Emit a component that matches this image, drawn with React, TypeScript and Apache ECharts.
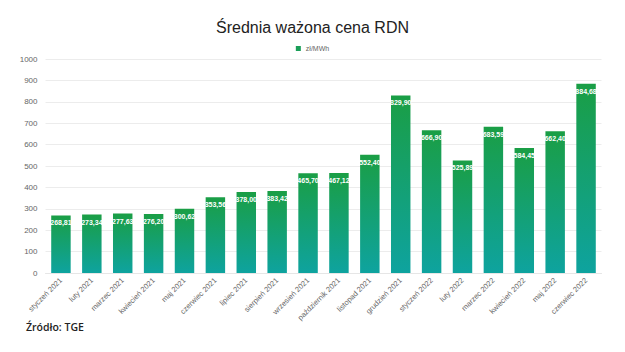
import React, { useEffect, useRef } from "react";
import * as echarts from "echarts";

const categories = [
  "styczeń 2021", "luty 2021", "marzec 2021", "kwiecień 2021", "maj 2021", "czerwiec 2021",
  "lipiec 2021", "sierpień 2021", "wrzesień 2021", "październik 2021", "listopad 2021", "grudzień 2021",
  "styczeń 2022", "luty 2022", "marzec 2022", "kwiecień 2022", "maj 2022", "czerwiec 2022",
];
const values = [
  268.81, 273.34, 277.63, 276.2, 300.62, 353.56, 378.0, 383.42, 465.7, 467.12, 552.4, 829.9,
  666.9, 525.89, 683.59, 584.45, 662.4, 884.68,
];
const seriesName = "zł/MWh";
const titleText = "Średnia ważona cena RDN";
const sourceText = "Źródło: TGE";

export default function App() {
  const ref = useRef<HTMLDivElement>(null);
  useEffect(() => {
    const chart = echarts.init(ref.current!, null, { renderer: "svg" });
    chart.setOption({
      animation: false,
      backgroundColor: "#ffffff",
      title: {
        text: titleText,
        left: "center",
        top: 14,
        textStyle: { fontFamily: "Liberation Sans, Arial", fontSize: 16, fontWeight: "normal", color: "#222" },
      },
      legend: {
        top: 40,
        left: "center",
        itemWidth: 5,
        itemHeight: 5,
        icon: "rect",
        textStyle: { fontFamily: "Liberation Sans, Arial", fontSize: 7, color: "#666" },
        itemGap: 3,
        data: [{ name: seriesName, itemStyle: { color: "#1a9e58" } }],
      },
      graphic: [
        {
          type: "text",
          left: 26,
          top: 321,
          style: { text: sourceText, fontFamily: "Open Sans, Noto Sans", fontSize: 10.5, fontWeight: 600, fill: "#222" },
        },
      ],
      grid: { left: 45.5, right: 23.5, top: 59, bottom: 79, containLabel: false },
      xAxis: {
        type: "category",
        data: categories,
        axisLine: { show: true, lineStyle: { color: "#e6e6e6" } },
        axisTick: { show: false },
        axisLabel: {
          rotate: 45,
          interval: 0,
          fontSize: 7.5,
          color: "#666",
          fontFamily: "Liberation Sans, Arial",
          margin: 6,
        },
      },
      yAxis: {
        type: "value",
        min: 0,
        max: 1000,
        interval: 100,
        axisLine: { show: false },
        axisTick: { show: false },
        splitLine: { lineStyle: { color: "#ececec" } },
        axisLabel: {
          fontSize: 8,
          color: "#666",
          fontFamily: "Liberation Sans, Arial",
          margin: 8,
          formatter: (v: number) => String(v),
        },
      },
      series: [
        {
          name: seriesName,
          type: "bar",
          data: values,
          barCategoryGap: "37%",
          itemStyle: {
            color: new echarts.graphic.LinearGradient(0, 0, 0, 1, [
              { offset: 0, color: "#1a9e45" },
              { offset: 1, color: "#0ea39f" },
            ]),
          },
          label: {
            show: true,
            position: "insideTop",
            distance: 4,
            color: "#ffffff",
            fontSize: 7,
            fontWeight: "bold",
            fontFamily: "Liberation Sans, Arial",
            formatter: (p: any) => p.value.toFixed(2).replace(".", ","),
          },
        },
      ],
    });
    return () => chart.dispose();
  }, []);
  return <div ref={ref} style={{ width: 625, height: 352, position: "absolute", left: 0, top: 0 }} />;
}
